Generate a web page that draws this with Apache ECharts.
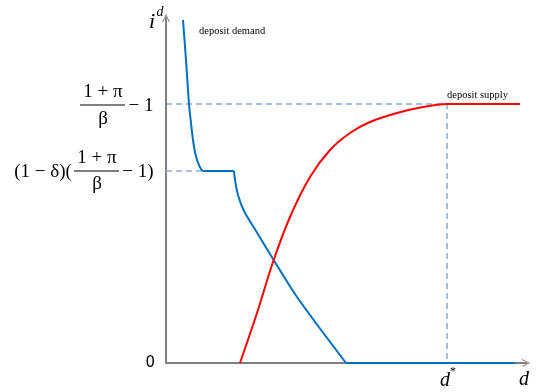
<!DOCTYPE html>
<html>
<head>
<meta charset="utf-8">
<script src="https://cdn.jsdelivr.net/npm/echarts@6/dist/echarts.min.js"></script>
<style>
  html, body { margin: 0; padding: 0; background: #fff; }
  #chart { width: 537px; height: 392px; }
</style>
</head>
<body>
<div id="chart"></div>
<script>
// levels on the i^d axis and the d* point
const topRate = 259;   // (1+π)/β − 1
const midRate = 192;   // (1−δ)((1+π)/β − 1)
const dStar = 281;

// deposit demand (blue): steep top part, flat step, falling part, zero tail
const demandX = [17, 20, 23, 25, 27, 29, 31, 33, 35, 37, 68, 69, 72, 78, 90, 107, 131, 180, 349];
const demandY = [343, 303, 259, 240, 223, 211, 203, 198, 194, 192, 192, 183, 168, 152, 132, 104, 66, 0, 0];
// indexes where the demand curve has a kink
const demandKinks = [0, 9, 10, 17, 18];

// deposit supply (red)
const supplyX = [74, 91, 107, 124, 144, 164, 184, 204, 231, 257, 281, 354];
const supplyY = [0, 50, 101, 146, 186, 213, 230, 241, 250, 256, 259, 259];

const zip = (xs, ys) => xs.map((x, i) => [x, ys[i]]);

const chart = echarts.init(document.getElementById('chart'));
const serif = 'Liberation Serif';
const chevron = 'path://M0,10 L5,0 L10,10 L8.6,10 L5,2.6 L1.4,10 Z';

const demandPts = zip(demandX, demandY);
const demandSeries = [];
for (let k = 0; k < demandKinks.length - 1; k++) {
    demandSeries.push({
        type: 'line',
        data: demandPts.slice(demandKinks[k], demandKinks[k + 1] + 1),
        smooth: 0.3,
        symbol: 'none',
        lineStyle: { color: '#0070c0', width: 2 }
    });
}

const txt = (x, y, text, size, extra) => ({
    type: 'text', x: x, y: y,
    style: Object.assign({
        text: text, fontFamily: serif, fontSize: size, fill: '#000',
        textAlign: 'center', textVerticalAlign: 'middle'
    }, extra || {})
});
const bar = (x1, x2, y) => ({
    type: 'line', shape: { x1: x1, y1: y, x2: x2, y2: y },
    style: { stroke: '#000', lineWidth: 1 }
});

chart.setOption({
    animation: false,
    grid: { left: 166, right: 11, top: 18, bottom: 29 },
    xAxis: {
        type: 'value', min: 0, max: 360,
        splitLine: { show: false },
        axisTick: { show: false },
        axisLabel: { show: false },
        axisLine: {
            lineStyle: { color: '#7f7f7f', width: 2 },
            symbol: ['none', chevron], symbolSize: [8, 10]
        }
    },
    yAxis: {
        type: 'value', min: 0, max: 345, interval: 345,
        splitLine: { show: false },
        axisTick: { show: false },
        axisLabel: {
            formatter: v => (v === 0 ? '0' : ''),
            fontFamily: 'DejaVu Sans', fontSize: 15, color: '#000', margin: 11
        },
        axisLine: {
            lineStyle: { color: '#7f7f7f', width: 2 },
            symbol: ['none', chevron], symbolSize: [8, 10]
        }
    },
    series: [
        {
            type: 'line', data: [[0, topRate], [dStar, topRate], [dStar, 0]],
            symbol: 'none', lineStyle: { color: '#4a7ebb', width: 1, type: [6, 4] }
        },
        {
            type: 'line', data: [[0, midRate], [37, midRate]],
            symbol: 'none', lineStyle: { color: '#8eabd6', width: 1.5, type: [6, 4] }
        },
        ...demandSeries,
        {
            type: 'line', data: zip(supplyX, supplyY), smooth: 0.3,
            symbol: 'none', lineStyle: { color: '#ff0000', width: 2 }
        }
    ],
    graphic: [
        // (1+π)/β − 1
        txt(103, 92, '1 + π', 19),
        bar(80, 125, 105),
        txt(103, 119, 'β', 19),
        txt(141, 106, '− 1', 19),
        // (1−δ)((1+π)/β − 1)
        txt(43, 172, '(1 − δ)(', 19),
        txt(97, 158, '1 + π', 19),
        bar(74, 119, 171),
        txt(97, 184, 'β', 19),
        txt(138, 172, '− 1)', 19),
        // axis names
        txt(152, 22, 'i', 22, { fontStyle: 'italic' }),
        txt(160, 12, 'd', 14, { fontStyle: 'italic' }),
        txt(524, 380, 'd', 20, { fontStyle: 'italic' }),
        txt(445, 381, 'd', 20, { fontStyle: 'italic' }),
        txt(453, 372, '*', 12),
        // curve captions
        txt(199, 31, 'deposit demand', 10.5, { textAlign: 'left' }),
        txt(447, 95, 'deposit supply', 10.5, { textAlign: 'left' })
    ]
});
</script>
</body>
</html>
